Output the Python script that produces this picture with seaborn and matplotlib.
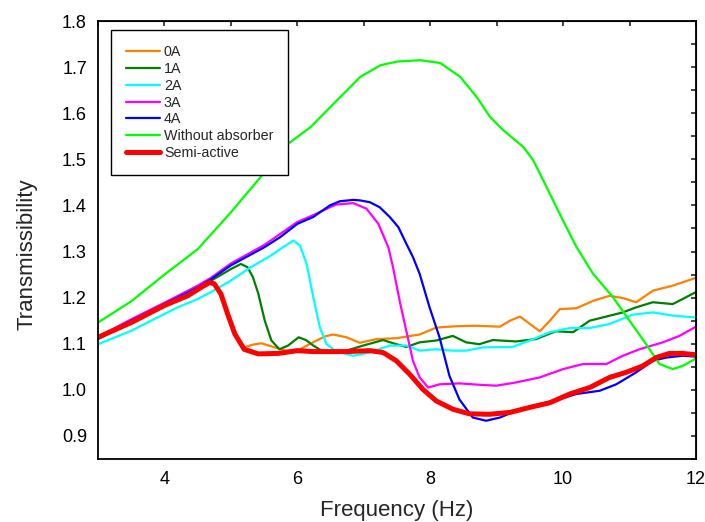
import numpy as np
import pandas as pd
import matplotlib
matplotlib.use("Agg")
import matplotlib.pyplot as plt
import seaborn as sns
from matplotlib.ticker import MultipleLocator

# ---------------- data ----------------
freq_0A = [3.0, 3.5, 4.0, 4.35, 4.55, 4.68, 4.75, 4.85, 4.95, 5.06, 5.2, 5.33, 5.46, 5.66, 5.85,
           6.04, 6.17, 6.29, 6.42, 6.54, 6.74, 6.94, 7.19, 7.49, 7.84, 8.09, 8.39, 8.69, 9.05, 9.2,
           9.35, 9.5, 9.65, 9.8, 9.95, 10.2, 10.45, 10.7, 10.9, 11.1, 11.35, 11.65, 12.0]
trans_0A = [1.114, 1.146, 1.183, 1.204, 1.222, 1.233, 1.230, 1.208, 1.165, 1.121, 1.092, 1.098,
            1.101, 1.092, 1.084, 1.088, 1.098, 1.107, 1.116, 1.120, 1.114, 1.102, 1.110, 1.112,
            1.120, 1.135, 1.138, 1.139, 1.137, 1.150, 1.159, 1.143, 1.127, 1.150, 1.175, 1.177,
            1.193, 1.204, 1.199, 1.190, 1.215, 1.226, 1.243]

freq_1A = [3.0, 3.5, 4.0, 4.5, 4.8, 5.0, 5.15, 5.25, 5.33, 5.41, 5.51, 5.61, 5.73, 5.86, 6.02,
           6.13, 6.24, 6.39, 6.74, 6.99, 7.29, 7.49, 7.64, 7.84, 8.09, 8.34, 8.54, 8.74, 8.94,
           9.29, 9.59, 9.89, 10.15, 10.4, 10.65, 10.9, 11.1, 11.35, 11.65, 12.0]
trans_1A = [1.110, 1.148, 1.184, 1.220, 1.245, 1.262, 1.273, 1.266, 1.245, 1.210, 1.150, 1.107,
            1.088, 1.096, 1.114, 1.108, 1.096, 1.083, 1.085, 1.096, 1.108, 1.099, 1.093, 1.103,
            1.107, 1.117, 1.103, 1.099, 1.108, 1.105, 1.110, 1.127, 1.125, 1.150, 1.159,
            1.168, 1.179, 1.190, 1.186, 1.212]

freq_2A = [3.0, 3.5, 3.8, 4.2, 4.5, 4.7, 5.0, 5.3, 5.6, 5.75, 5.94, 6.04, 6.14, 6.24,
           6.34, 6.44, 6.59, 6.84, 7.09, 7.39, 7.64, 7.84, 8.09, 8.34, 8.54, 8.79, 9.24,
           9.55, 9.8, 10.1, 10.4, 10.7, 11.05, 11.35, 11.65, 12.0]
trans_2A = [1.099, 1.128, 1.150, 1.179, 1.197, 1.212, 1.237, 1.266, 1.291, 1.306, 1.324,
            1.313, 1.273, 1.201, 1.135, 1.099, 1.083, 1.074, 1.081, 1.096, 1.096, 1.085,
            1.088, 1.085, 1.085, 1.092, 1.093, 1.110, 1.125, 1.134, 1.134, 1.143, 1.163,
            1.168, 1.161, 1.157]

freq_3A = [3.0, 3.5, 4.0, 4.5, 4.7, 5.0, 5.5, 5.74, 6.0, 6.24, 6.49, 6.59, 6.84, 7.04, 7.22,
           7.37, 7.44, 7.54, 7.64, 7.74, 7.84, 7.97, 8.14, 8.44, 8.74, 8.99, 9.29, 9.65,
           10.0, 10.3, 10.65, 10.9, 11.15, 11.5, 11.75, 12.0]
trans_3A = [1.115, 1.153, 1.189, 1.226, 1.243, 1.274, 1.314, 1.338, 1.364, 1.379, 1.396,
            1.402, 1.405, 1.393, 1.360, 1.309, 1.266, 1.193, 1.128, 1.063, 1.027, 1.005, 1.012,
            1.014, 1.011, 1.009, 1.016, 1.027, 1.045, 1.056, 1.056, 1.074, 1.088, 1.103,
            1.117, 1.137]

freq_4A = [3.0, 3.5, 4.0, 4.5, 4.7, 5.0, 5.5, 5.74, 6.0, 6.24, 6.49, 6.64, 6.84, 6.94, 7.09,
           7.24, 7.39, 7.52, 7.64, 7.74, 7.84, 7.99, 8.14, 8.29, 8.44, 8.64, 8.84, 9.05, 9.35,
           9.65, 9.95, 10.2, 10.55, 10.8, 11.1, 11.35, 11.55, 11.8, 12.0]
trans_4A = [1.112, 1.150, 1.186, 1.222, 1.240, 1.270, 1.309, 1.331, 1.360, 1.375, 1.400,
            1.409, 1.412, 1.411, 1.407, 1.396, 1.375, 1.353, 1.317, 1.288, 1.252, 1.179, 1.114,
            1.030, 0.979, 0.940, 0.933, 0.940, 0.958, 0.969, 0.980, 0.991, 0.998, 1.012,
            1.038, 1.063, 1.070, 1.074, 1.072]

freq_none = [3.0, 3.5, 4.0, 4.5, 5.0, 5.45, 5.8, 6.2, 6.55, 6.95, 7.25,
             7.5, 7.85, 8.15, 8.45, 8.7, 8.9, 9.1, 9.4, 9.55, 9.75, 10.0, 10.2, 10.45, 10.75,
             11.0, 11.25, 11.45, 11.65, 11.8, 12.0]
trans_none = [1.146, 1.192, 1.250, 1.305, 1.385, 1.462, 1.527,
              1.570, 1.621, 1.679, 1.704, 1.712, 1.715, 1.709, 1.679, 1.635, 1.592, 1.563,
              1.527, 1.498, 1.440, 1.367, 1.310, 1.252, 1.201, 1.150, 1.099, 1.056, 1.045,
              1.052, 1.068]

freq_semi = [3.0, 3.5, 4.0, 4.35, 4.55, 4.68, 4.75, 4.85, 4.95, 5.06, 5.2, 5.41, 5.71,
             6.0, 6.24, 6.74, 7.09, 7.29, 7.49, 7.69, 7.89, 8.09, 8.34, 8.59, 8.89, 9.2,
             9.5, 9.8, 10.1, 10.4, 10.7, 10.95, 11.2, 11.4, 11.6, 11.8, 12.0]
trans_semi = [1.114, 1.146, 1.183, 1.204, 1.222, 1.233, 1.230, 1.208, 1.165, 1.121, 1.088,
              1.078, 1.079, 1.085, 1.083, 1.083, 1.085, 1.081, 1.063, 1.034, 1.001, 0.976,
              0.958, 0.948, 0.947, 0.951, 0.962, 0.972, 0.991, 1.005, 1.027, 1.038, 1.052,
              1.070, 1.079, 1.079, 1.076]

series_names = ["0A", "1A", "2A", "3A", "4A", "Without absorber", "Semi-active"]
series_freq = [freq_0A, freq_1A, freq_2A, freq_3A, freq_4A, freq_none, freq_semi]
series_trans = [trans_0A, trans_1A, trans_2A, trans_3A, trans_4A, trans_none, trans_semi]
series_colors = ["#ff8000", "#008000", "#00ffff", "#ff00ff", "#0000ff", "#00ff00", "#ff0000"]
series_widths = [1.6, 1.6, 1.6, 1.6, 1.6, 1.6, 3.6]

x_ticks = [4, 6, 8, 10, 12]
y_ticks = [0.9, 1.0, 1.1, 1.2, 1.3, 1.4, 1.5, 1.6, 1.7, 1.8]

# ---------------- plotting ----------------
sns.set_style("white")
plt.rcParams["font.family"] = ["Liberation Sans", "DejaVu Sans"]

fig = plt.figure(figsize=(7.05, 5.22), dpi=100)
ax = fig.add_axes([98 / 705, 1 - 459 / 522, (696 - 98) / 705, (459 - 21) / 522])

for name, f, t, c, w in zip(series_names, series_freq, series_trans, series_colors, series_widths):
    df = pd.DataFrame({"Frequency": f, "Transmissibility": t})
    sns.lineplot(data=df, x="Frequency", y="Transmissibility", ax=ax, color=c,
                 linewidth=w, label=name, sort=False, estimator=None)
for line in ax.get_lines():
    line.set_solid_joinstyle("round")
    line.set_solid_capstyle("round")

ax.set_xlim(3, 12)
ax.set_ylim(0.85, 1.8)
ax.set_xticks(x_ticks)
ax.set_yticks(y_ticks)
ax.set_yticklabels([f"{v:.1f}" for v in y_ticks])
ax.xaxis.set_minor_locator(MultipleLocator(1))
ax.yaxis.set_minor_locator(MultipleLocator(0.05))
ax.tick_params(which="major", direction="in", length=8, width=1.2, labelsize=13,
               pad=8, colors="black")
ax.tick_params(which="minor", direction="in", length=5, width=1.2)
ax.tick_params(axis="x", which="major", pad=9)

for s in ax.spines.values():
    s.set_visible(True)
    s.set_color("black")
    s.set_linewidth(1.3)

secx = ax.secondary_xaxis("top")
secx.set_xticks(np.arange(3, 13, 1))
secx.tick_params(direction="in", length=3.5, width=1.2, labeltop=False)
secy = ax.secondary_yaxis("right")
secy.set_yticks(np.arange(0.85, 1.801, 0.05))
secy.tick_params(direction="in", length=3.5, width=1.2, labelright=False)

ax.set_xlabel("Frequency (Hz)", fontsize=16, labelpad=8)
ax.set_ylabel("Transmissibility", fontsize=16)
ax.yaxis.set_label_coords(-0.102, 0.468)

leg = ax.legend(loc="upper left", bbox_to_anchor=(111 / 705, 1 - 30 / 522),
                bbox_transform=fig.transFigure, borderaxespad=0, frameon=True,
                fancybox=False, framealpha=1, edgecolor="black", fontsize=10.3,
                handlelength=2.4, handletextpad=0.25, labelspacing=0.2,
                borderpad=1.05)
leg.get_frame().set_linewidth(1.0)

fig.savefig("out.png", dpi=100)
